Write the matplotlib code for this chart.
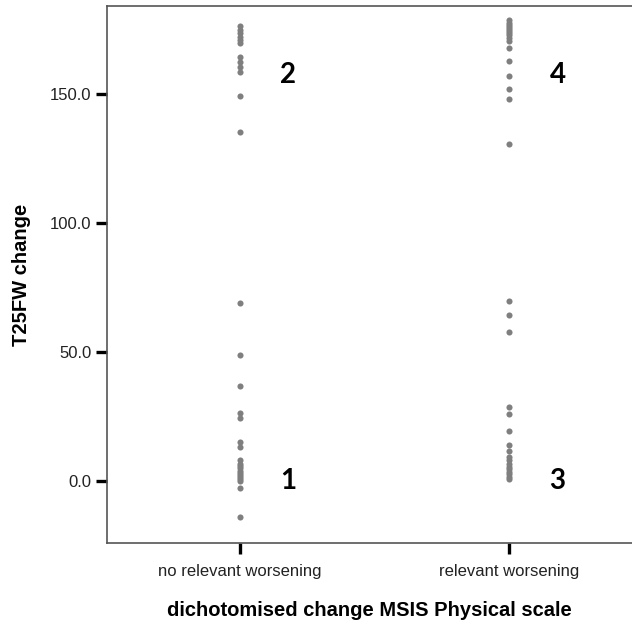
"""Dot plot of T25FW change by dichotomised MSIS physical scale change."""

import matplotlib
matplotlib.use("Agg")
import matplotlib.pyplot as plt

categories = ["no relevant worsening", "relevant worsening"]

# values
no_worse = [176.4, 174.8, 173.5, 172.2, 170.9, 169.6, 164.5, 162.5, 160.6,
            158.6, 149.2, 135.1,
            68.9, 48.8, 36.8, 26.4, 24.4, 15.1, 13.2,
            8.0, 6.8, 5.8, 4.9, 4.0, 3.2, 2.4, 1.6, 0.8, 0.0,
            -2.7, -14.0]
worse = [178.5, 177.6, 176.8, 176.0, 175.2, 174.4, 173.6, 172.8, 171.8, 170.5,
         167.7, 162.9, 157.1, 151.8, 147.9, 130.6,
         69.8, 64.2, 57.6, 28.8, 26.0, 19.4, 14.0,
         11.5, 9.5, 8.0, 6.8, 5.6, 4.6, 3.6, 2.6, 1.6, 0.8]

quadrant_labels = ["1", "2", "3", "4"]
label_pos = [(0, 0.0), (0, 157.5), (1, 0.0), (1, 157.5)]

plt.rcParams["font.family"] = ["Liberation Sans", "DejaVu Sans"]

fig = plt.figure(figsize=(6.32, 6.27), dpi=100)
ax = fig.add_axes([107 / 632, 84 / 627, 525 / 632, 537 / 627])

for i, vals in enumerate([no_worse, worse]):
    ax.plot([i] * len(vals), vals, "o", color="#7f7f7f", markersize=4.4,
            markeredgewidth=0, clip_on=False)

for txt, (xc, yv) in zip(quadrant_labels, label_pos):
    ax.text(xc + 0.18, yv, txt, fontsize=20, fontweight="bold",
            family=["Lato", "DejaVu Sans"],
            ha="center", va="center", color="black")

ax.set_xlim(-0.494, 1.457)
ax.set_ylim(-24.0, 184.1)
ax.set_xticks([0, 1])
ax.set_xticklabels(categories)
ax.set_yticks([0, 50, 100, 150])
ax.set_yticklabels(["0.0", "50.0", "100.0", "150.0"])

ax.tick_params(axis="both", direction="out", length=8, width=2.4,
               color="black", labelcolor="#222222")
ax.tick_params(axis="x", pad=7, labelsize=12)
ax.tick_params(axis="y", pad=3, labelsize=12)

for side in ["left", "top", "bottom"]:
    ax.spines[side].set_color("#555555")
    ax.spines[side].set_linewidth(1.2)
ax.spines["right"].set_visible(False)

ax.set_ylabel("T25FW change", fontsize=14.5, fontweight="bold", labelpad=14)
ax.set_xlabel("dichotomised change MSIS Physical scale", fontsize=14.5,
              fontweight="bold", labelpad=16)

fig.savefig("out.png", dpi=100)
